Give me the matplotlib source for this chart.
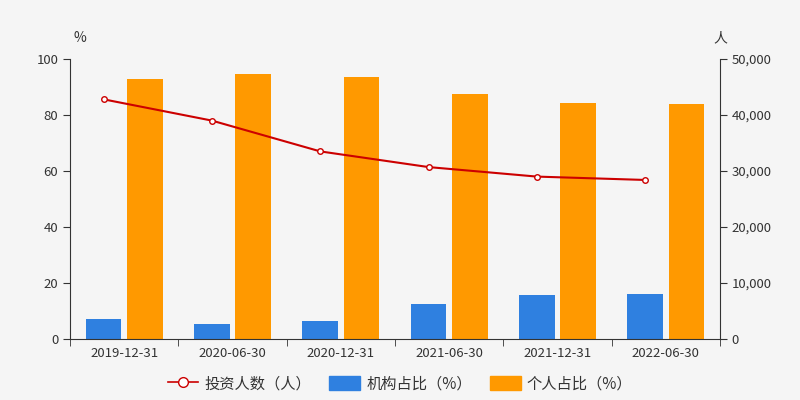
import matplotlib
matplotlib.use("Agg")
import matplotlib.pyplot as plt
import numpy as np

plt.rcParams['font.family'] = ['Noto Sans CJK SC', 'DejaVu Sans']

dates = ["2019-12-31", "2020-06-30", "2020-12-31", "2021-06-30", "2021-12-31", "2022-06-30"]
inst = [7.1, 5.2, 6.3, 12.6, 15.8, 16.1]
indiv = [92.9, 94.8, 93.7, 87.4, 84.2, 83.9]
investors = [42800, 39000, 33500, 30700, 29000, 28400]

bg = "#f5f5f5"
fig = plt.figure(figsize=(8, 4), dpi=100, facecolor=bg)
ax = fig.add_axes([70/800, 61/400, 650/800, 280/400], facecolor=bg)
x = np.arange(len(dates))
w = 0.33
ax.bar(x - 0.19, inst, w, color="#2f80e0", zorder=2)
ax.bar(x + 0.19, indiv, w, color="#ff9900", zorder=2)
ax.set_xlim(-0.5, len(dates) - 0.5)
ax.set_ylim(0, 100)
ax.set_yticks(range(0, 101, 20))
ax.set_xticks(x)
ax.set_xticklabels(dates)
ax.set_xticks(np.arange(-0.5, len(dates)), minor=True)
ax.tick_params(axis='x', which='major', length=0, pad=6, colors="#333333", labelsize=9.5)
ax.tick_params(axis='x', which='minor', length=5, color="#333333")
ax.tick_params(axis='y', length=5, color="#333333", colors="#333333", labelsize=9.5)
for s in ["top", "right"]:
    ax.spines[s].set_visible(False)
ax.spines["left"].set_color("#333333")
ax.spines["bottom"].set_color("#333333")

ax2 = ax.twinx()
ax2.plot(x - 0.19, investors, color="#cc0000", lw=1.5, marker="o", ms=4,
         mfc="white", mec="#cc0000", zorder=3)
ax2.set_ylim(0, 50000)
ax2.set_yticks(range(0, 50001, 10000))
ax2.set_yticklabels([f"{v:,}" for v in range(0, 50001, 10000)])
ax2.tick_params(axis='y', length=5, color="#333333", colors="#333333", labelsize=9.5)
for s in ["top", "left", "bottom"]:
    ax2.spines[s].set_visible(False)
ax2.spines["right"].set_color("#333333")

fig.text(80/800, 1 - 38/400, "%", ha="center", va="center", fontsize=10, color="#333333")
fig.text(720/800, 1 - 38/400, "人", ha="center", va="center", fontsize=10, color="#333333")

from matplotlib.lines import Line2D
from matplotlib.patches import Patch
handles = [Line2D([], [], color="#cc0000", marker="o", mfc="white", ms=7, lw=1.2),
           Patch(color="#2f80e0"), Patch(color="#ff9900")]
labels = ["投资人数（人）", "机构占比（%）", "个人占比（%）"]
fig.legend(handles, labels, loc="center", bbox_to_anchor=(0.5, 1 - 384/400), ncol=3,
           frameon=False, fontsize=11, handlelength=2, handleheight=1, columnspacing=1.2,
           handletextpad=0.4, labelcolor="#333333")
fig.savefig("out.png", dpi=100, facecolor=bg)
